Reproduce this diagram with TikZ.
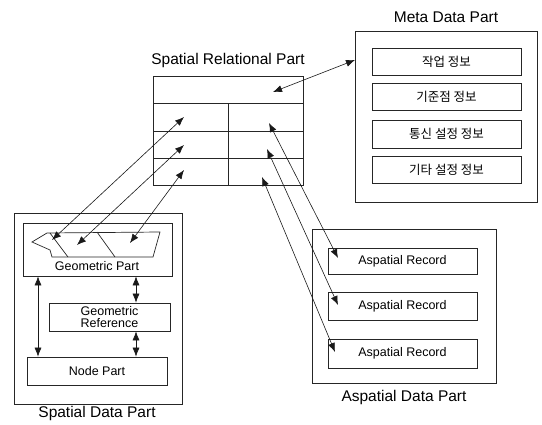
\documentclass[tikz,border=0pt]{standalone}
\usepackage{fontspec}
\setmainfont{Liberation Sans}
\newfontfamily\korfont{Noto Sans CJK KR}
\usetikzlibrary{arrows.meta}

\tikzset{
  partbox/.style={draw=black!85, line width=0.7pt, inner sep=0pt},
  itembox/.style={draw=black!85, line width=0.7pt, inner sep=0pt, minimum width=149pt, font=\fontsize{12.5}{14}\selectfont},
  korbox/.style={itembox, font=\korfont\fontsize{12.5}{14}\selectfont},
  cellbox/.style={draw=black!85, line width=0.6pt, inner sep=0pt, minimum width=75pt},
  parttitle/.style={font=\fontsize{15.5}{18}\selectfont},
  link/.style={{Latex[length=9pt,width=7pt]}-{Latex[length=9pt,width=7pt]}, line width=0.6pt, black!90},
}

\begin{document}
\begin{tikzpicture}[x=1pt,y=-1pt]
  \useasboundingbox (0,0) rectangle (542,424);

  % meta data part
  \node[partbox, minimum width=182pt, minimum height=171pt] (meta) at (446,116.5) {};
  \node[parttitle] (metatitle) at (446,17) {Meta Data Part};
  \node[korbox, minimum height=27pt] (job) at (446.5,61.5) {작업 정보};
  \node[korbox, minimum height=27pt] (basept) at (446.5,96.5) {기준점 정보};
  \node[korbox, minimum height=28pt] (comm) at (446.5,134) {통신 설정 정보};
  \node[korbox, minimum height=27pt] (etc) at (446.5,169.5) {기타 설정 정보};

  % spatial relational part (table)
  \node[parttitle] (srtitle) at (228,60) {Spatial Relational Part};
  \node[cellbox, minimum width=150pt, minimum height=27pt] (srtop) at (228,89.5) {};
  \node[cellbox, minimum height=28pt] (c1l) at (190.5,117) {};
  \node[cellbox, minimum height=28pt] (c1r) at (265.5,117) {};
  \node[cellbox, minimum height=27pt] (c2l) at (190.5,144.5) {};
  \node[cellbox, minimum height=27pt] (c2r) at (265.5,144.5) {};
  \node[cellbox, minimum height=27pt] (c3l) at (190.5,171.5) {};
  \node[cellbox, minimum height=27pt] (c3r) at (265.5,171.5) {};

  % spatial data part
  \node[partbox, minimum width=168pt, minimum height=191pt] (spatial) at (98,308.5) {};
  \node[parttitle] (spatialtitle) at (97,413) {Spatial Data Part};
  \node[partbox, minimum width=149pt, minimum height=53pt] (geompart) at (97.5,249.5) {};
  \node[font=\fontsize{12.5}{14}\selectfont] (gptext) at (97,266.5) {Geometric Part};
  \draw[line width=0.7pt, black!85] (32,242) -- (47,233) -- (160,232) -- (153,257) -- (52,257) -- (50,250) -- cycle;
  \draw[line width=0.7pt, black!85] (50,233) -- (68,257);
  \draw[line width=0.7pt, black!85] (97,232) -- (115,257);
  \node[itembox, minimum width=121pt, minimum height=28pt, align=center, font=\fontsize{12.5}{12.5}\selectfont] (georef) at (109.5,317) {Geometric\\Reference};
  \node[itembox, minimum width=140pt, minimum height=28pt] (nodepart) at (97,371) {Node Part};

  % aspatial data part
  \node[partbox, minimum width=184pt, minimum height=154pt] (aspatial) at (404,306) {};
  \node[parttitle] (aspatialtitle) at (404,397) {Aspatial Data Part};
  \node[itembox, minimum height=26pt] (reca) at (402.5,261) {Aspatial Record};
  \node[itembox, minimum height=28pt] (recb) at (402.5,306) {Aspatial Record};
  \node[itembox, minimum height=29pt] (recc) at (402.5,353.5) {Aspatial Record};

  % link ends
  \coordinate (srtopin) at (273,92);
  \coordinate (metain) at (355,60);
  \coordinate (c1lin) at (184,117);
  \coordinate (c2lin) at (184,145);
  \coordinate (c3lin) at (184,170);
  \coordinate (geoa) at (52,240);
  \coordinate (geob) at (77,245);
  \coordinate (geoc) at (130,243);
  \coordinate (c1rin) at (269,123);
  \coordinate (c2rin) at (267,149);
  \coordinate (c3rin) at (262,177);
  \coordinate (recain) at (338,258);
  \coordinate (recbin) at (338,305);
  \coordinate (reccin) at (335,352);
  \coordinate (vl) at (38,0);
  \coordinate (vr) at (136,0);

  \draw[link] (srtopin) -- (metain);
  \draw[link] (c1lin) -- (geoa);
  \draw[link] (c2lin) -- (geob);
  \draw[link] (c3lin) -- (geoc);
  \draw[link] (c1rin) -- (recain);
  \draw[link] (c2rin) -- (recbin);
  \draw[link] (c3rin) -- (reccin);
  \draw[link] (geompart.south -| vl) -- (nodepart.north -| vl);
  \draw[link] (geompart.south -| vr) -- (georef.north -| vr);
  \draw[link] (georef.south -| vr) -- (nodepart.north -| vr);
\end{tikzpicture}
\end{document}
